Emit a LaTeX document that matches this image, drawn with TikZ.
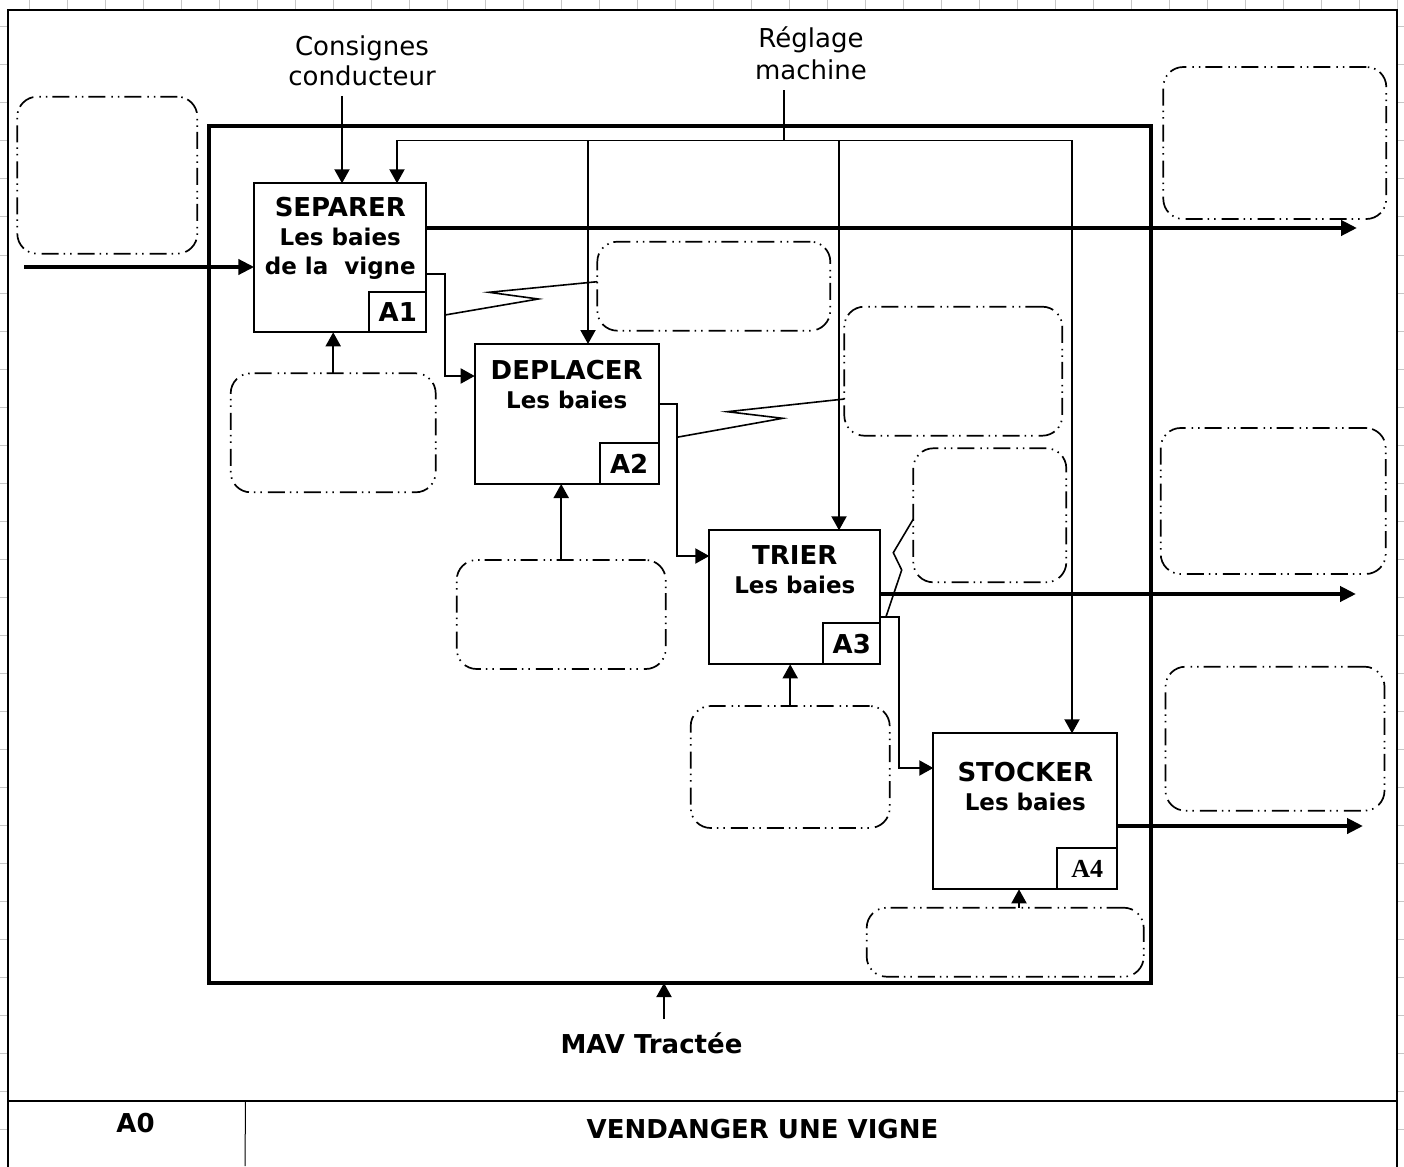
\documentclass[tikz,border=0pt]{standalone}
\usepackage{fontspec}
\setmainfont{DejaVu Sans}
\newfontfamily\tagserif{Liberation Serif}
\usetikzlibrary{arrows.meta}
\newcommand{\boxline}{2pt}
\newcommand{\titlesize}{\fontsize{26}{29}\selectfont}
\newcommand{\subsize}{\fontsize{23}{29}\selectfont}
\tikzstyle{activity}=[draw, line width=\boxline, inner sep=0, outer sep=0, anchor=north west]
\tikzstyle{tag}=[draw, line width=\boxline, inner sep=0, outer sep=0, anchor=south east, font=\titlesize\bfseries]
\tikzstyle{acttext}=[anchor=north, align=center, inner sep=0, font=\subsize\bfseries]
\tikzstyle{blank}=[draw, line width=1.7pt, rounded corners=20pt, inner sep=0, outer sep=0, anchor=north west,
                   % long dash, dot, dot
                   dash pattern=on 17pt off 5pt on 1.5pt off 5pt on 1.5pt off 6pt]
\tikzstyle{link}=[line width=2pt, -{Triangle[length=14pt, width=15pt]}]
\tikzstyle{flow}=[line width=4pt, -{Triangle[length=16pt, width=15pt]}]
\tikzstyle{bus}=[line width=1.6pt, line cap=rect]
\tikzstyle{squiggle}=[line width=1.6pt]

\begin{document}
\begin{tikzpicture}[x=1pt, y=-1pt]
    \useasboundingbox (0,0) rectangle (1404,1166);
    % grid paper behind the sheet
    \foreach \gx in {29,67,...,1404} \draw[gray!45, line width=1pt] (\gx,0) -- (\gx,1166);
    \foreach \gy in {27,65,...,1166} \draw[gray!45, line width=1pt] (0,\gy) -- (1404,\gy);
    \draw[line width=2pt, fill=white] (8,1175) -- (8,10.5) -- (1396.5,10.5) -- (1396.5,1175);

    % title block
    \draw[line width=2.5pt] (8,1101) -- (1396.5,1101);
    \draw[line width=1pt] (245.5,1101) -- (245,1166);
    \node[anchor=base, font=\titlesize\bfseries] (A0) at (135.5,1132) {A0};
    \node[anchor=base, font=\titlesize\bfseries] (title) at (762.5,1138) {VENDANGER UNE VIGNE};

    % A0 frame
    \node[draw, line width=4pt, inner sep=0, outer sep=0, anchor=north west,
          minimum width=942pt, minimum height=857pt] (frame) at (209,126) {};

    % activities
    \node[activity, minimum width=172pt, minimum height=149pt] (A1) at (254.3,183.3) {};
    \node[activity, minimum width=184pt, minimum height=140pt] (A2) at (474.7,344) {};
    \node[activity, minimum width=171pt, minimum height=134pt] (A3) at (709.3,530.3) {};
    \node[activity, minimum width=184pt, minimum height=156pt] (A4) at (933.3,733.3) {};
    \node[tag, minimum width=57pt, minimum height=40pt] (A1tag) at (A1.south east) {A1};
    \node[tag, minimum width=59pt, minimum height=41pt] (A2tag) at (A2.south east) {A2};
    \node[tag, minimum width=57pt, minimum height=41pt] (A3tag) at (A3.south east) {A3};
    \node[tag, minimum width=60pt, minimum height=41pt, font={\titlesize\tagserif\bfseries}] (A4tag) at (A4.south east) {A4};
    \node[acttext, yshift=-13.7pt] (A1txt) at (A1.north) {{\titlesize SEPARER}\\Les baies\\de la~~vigne};
    \node[acttext, yshift=-16.3pt] (A2txt) at (A2.north) {{\titlesize DEPLACER}\\Les baies};
    \node[acttext, yshift=-14.7pt] (A3txt) at (A3.north) {{\titlesize TRIER}\\Les baies};
    \node[acttext, yshift=-28.4pt] (A4txt) at (A4.north) {{\titlesize STOCKER}\\Les baies};

    % empty boxes to fill in
    \node[blank, minimum width=180pt, minimum height=157pt] (blankin) at (17.3,96.7) {};
    \node[blank, minimum width=223pt, minimum height=152pt] (blankout1) at (1163.3,67) {};
    \node[blank, minimum width=225pt, minimum height=146pt] (blankout3) at (1160.7,428) {};
    \node[blank, minimum width=219pt, minimum height=144pt] (blankout4) at (1165.5,666.7) {};
    \node[blank, minimum width=233pt, minimum height=89pt] (note1) at (597.3,241.7) {};
    \node[blank, minimum width=218pt, minimum height=129pt] (note2) at (844.3,306.7) {};
    \node[blank, minimum width=153pt, minimum height=134pt] (note3) at (913.3,448.3) {};
    \node[blank, minimum width=205pt, minimum height=119pt] (blankA1) at (230.7,373.3) {};
    \node[blank, minimum width=209pt, minimum height=109pt] (blankA2) at (456.7,560) {};
    \node[blank, minimum width=199pt, minimum height=122pt] (blankA3) at (690.7,706) {};
    \node[blank, minimum width=277pt, minimum height=69pt] (blankA4) at (866.7,907.7) {};

    % controls and mechanism texts
    \node[anchor=north, align=center, inner sep=0, font=\fontsize{26}{30}\selectfont] (consignes) at (362,35.5) {Consignes\\conducteur};
    \node[anchor=north, align=center, inner sep=0, font=\fontsize{26}{32}\selectfont] (reglage) at (811,27) {Réglage\\machine};
    \node[anchor=base, font=\titlesize\bfseries] (mav) at (651.5,1053) {MAV Tractée};

    \coordinate (in) at (24,267);
    \coordinate (out1) at (1357,228);
    \coordinate (out3) at (1356,594);
    \coordinate (out4) at (1363,826);
    \coordinate (cons) at (342,96);
    \coordinate (regl) at (784,91);
    \coordinate (b1) at (397,140.5);
    \coordinate (b2) at (588,140.5);
    \coordinate (b3) at (839,140.5);
    \coordinate (b4) at (1072,140.5);
    \coordinate (mavin) at (664,1019);
    \coordinate (tap1) at (445,315);
    \coordinate (tap2) at (676.7,437.3);
    \coordinate (tap3) at (886,616.7);

    % inputs and outputs
    \draw[flow] (in) -- (A1.west |- in);
    \draw[flow] (A1.east |- out1) -- (out1);
    \draw[flow] (A3.east |- out3) -- (out3);
    \draw[flow] (A4.east |- out4) -- (out4);

    % controls
    \draw[link] (cons) -- (A1.north -| cons);
    \draw[bus] (regl) -- (regl |- b1);
    \draw[bus] (b1) -- (b4);
    \draw[link] (b1) -- (A1.north -| b1);
    \draw[link] (b2) -- (A2.north -| b2);
    \draw[link] (b3) -- (A3.north -| b3);
    \draw[link] (b4) -- (A4.north -| b4);

    % between activities
    \draw[link] (A1.east |- 0,274) -| (445,376) -- (A2.west |- 0,376);
    \draw[link] (A2.east |- 0,404) -| (677,556) -- (A3.west |- 0,556);
    \draw[link] (A3.east |- 0,617) -| (899,768) -- (A4.west |- 0,768);

    % mechanisms
    \draw[link] (blankA1.north) -- (A1.south -| blankA1.north);
    \draw[link] (blankA2.north) -- (A2.south -| blankA2.north);
    \draw[link] (blankA3.north) -- (A3.south -| blankA3.north);
    \draw[link] (blankA4.north -| 1019,0) -- (A4.south -| 1019,0);
    \draw[link] (mavin) -- (frame.south -| mavin);

    % squiggles to the notes
    \draw[squiggle] (tap1) -- (538.3,299) -- (489,292.3) -- ([yshift=4.5pt]note1.west);
    \draw[squiggle] (tap2) -- (782.7,418.3) -- (727.3,411.7) -- ([yshift=-27.8pt]note2.west);
    \draw[squiggle] (tap3) -- (901.7,570) -- (893.3,552.7) -- ([yshift=-3.8pt]note3.west);
\end{tikzpicture}
\end{document}
